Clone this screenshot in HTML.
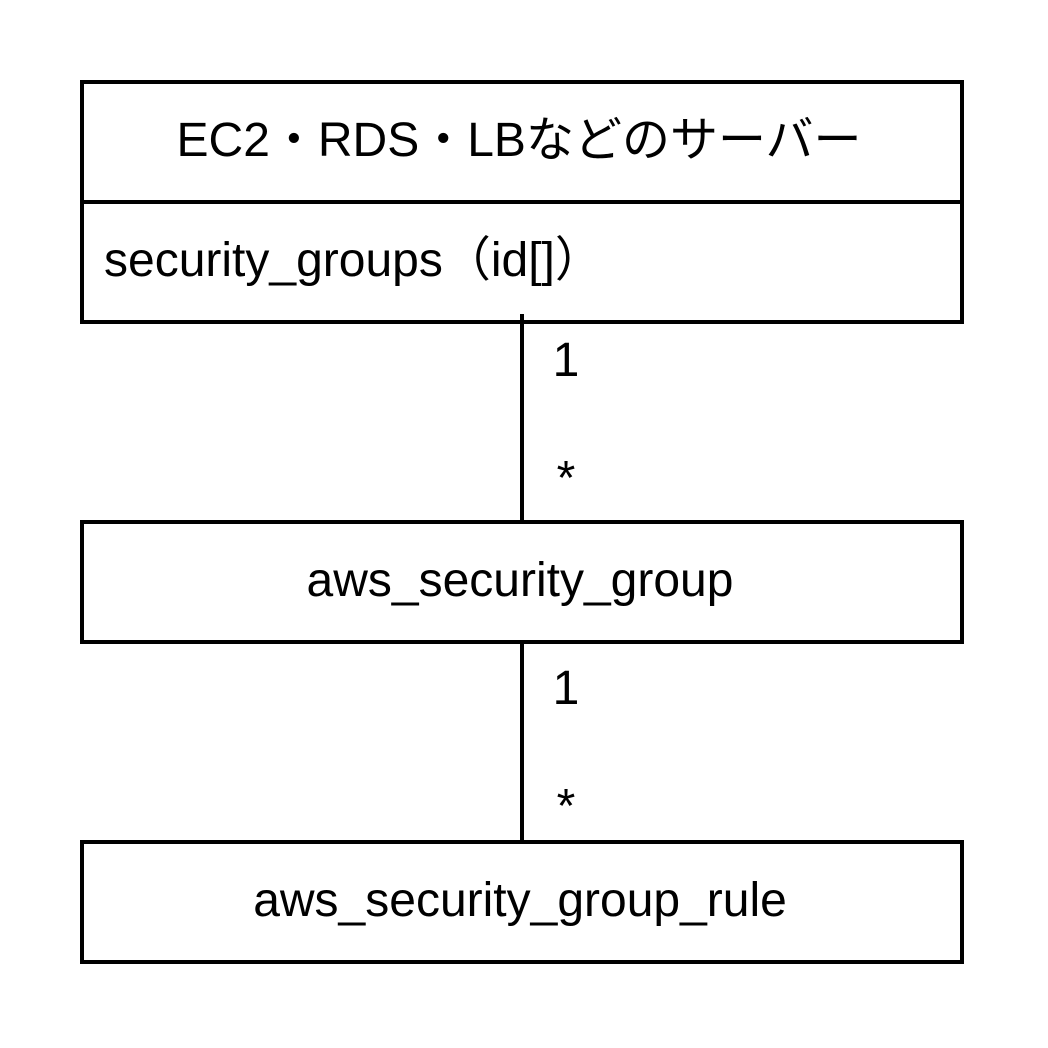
<!DOCTYPE html>
<html><head><meta charset="utf-8"><style>html,body{margin:0;padding:0;background:#fff}svg{display:block}</style></head>
<body>
<svg width="1048" height="1048" viewBox="0 0 1048 1048" xmlns="http://www.w3.org/2000/svg" font-family="'Liberation Sans','Noto Sans CJK JP',sans-serif" font-size="48" fill="#000">
<g fill="none" stroke="#000" stroke-width="4">
<rect x="82" y="82" width="880" height="240"/>
<line x1="82" y1="202" x2="962" y2="202"/>
<rect x="82" y="522" width="880" height="120"/>
<rect x="82" y="842" width="880" height="120"/>
<line x1="522" y1="314" x2="522" y2="522"/>
<line x1="522" y1="642" x2="522" y2="842"/>
</g>
<text x="519" y="156" text-anchor="middle">EC2・RDS・LBなどのサーバー</text>
<text x="104" y="276">security_groups（id[]）</text>
<text x="520" y="596" text-anchor="middle">aws_security_group</text>
<text x="520" y="916" text-anchor="middle">aws_security_group_rule</text>
<text x="566" y="376" text-anchor="middle">1</text>
<text x="566" y="494" text-anchor="middle">*</text>
<text x="566" y="704" text-anchor="middle">1</text>
<text x="566" y="822" text-anchor="middle">*</text>
</svg>
</body></html>
